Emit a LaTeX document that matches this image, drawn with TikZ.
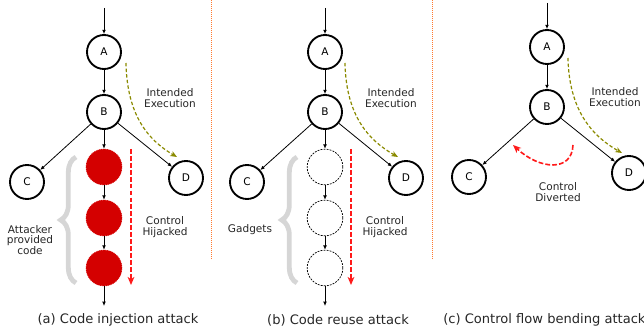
\documentclass[tikz,border=0pt]{standalone}
\usepackage{fontspec}
\setmainfont{DejaVu Sans}
\usetikzlibrary{arrows.meta,decorations.pathreplacing}

\definecolor{blockred}{HTML}{D40000}
\definecolor{hijackred}{HTML}{FF1A1A}
\definecolor{intended}{HTML}{8A8A00}
\definecolor{sepline}{HTML}{FF7A30}
\definecolor{bracegray}{HTML}{D6D6D6}

\tikzset{
  bb/.style={circle, draw=black, line width=1.4pt, minimum size=25.5pt, inner sep=0pt,
             font=\fontsize{7.9}{8}\selectfont},
  injected/.style={circle, fill=blockred, draw=blockred, line width=0.6pt,
             dash pattern=on 0.8pt off 0.6pt, minimum size=26.8pt, inner sep=0pt},
  gadget/.style={circle, draw=black, line width=0.55pt, dash pattern=on 1.4pt off 0.9pt,
             minimum size=26.8pt, inner sep=0pt},
  flow/.style={line width=0.6pt, -{Latex[length=3.2pt,width=2.8pt]}},
  hijack/.style={hijackred, line width=1.2pt, dash pattern=on 3.6pt off 1.6pt,
             -{Stealth[length=6pt,width=5pt,inset=1.6pt]}},
  planned/.style={intended, line width=0.9pt, dash pattern=on 2.6pt off 1.6pt,
             -{Stealth[length=5pt,width=4pt,inset=1.4pt]}},
  lbl/.style={align=center, inner sep=0pt, font=\fontsize{7.9}{8.1}\selectfont, text=black!85},
  caption/.style={inner sep=0pt, font=\fontsize{9.8}{11}\selectfont, text=black!85},
  gbrace/.style={bracegray, line width=3.6pt, decorate,
             decoration={brace, amplitude=11.5pt}},
  divider/.style={sepline, line width=0.75pt, dash pattern=on 0.75pt off 0.75pt},
}

\begin{document}
\begin{tikzpicture}[x=0.75pt, y=-0.75pt]
\useasboundingbox (0,0) rectangle (644,334);
\clip (0,0) rectangle (644,334);

% separators between the three panels
\coordinate (s1a) at (211,0);   \coordinate (s1b) at (211,260);
\coordinate (s2a) at (432,0);   \coordinate (s2b) at (432,260);
\draw[divider] (s1a) -- (s1b);
\draw[divider] (s2a) -- (s2b);

% ---------------- (a) code injection ----------------
\coordinate (ain) at (104,8);
\node[bb] (aA) at (104,52) {A};
\node[bb] (aB) at (104,112) {B};
\node[bb] (aC) at (27,182) {C};
\node[bb] (aD) at (186,178) {D};
\node[injected] (a1) at (104,167) {};
\node[injected] (a2) at (104,218) {};
\node[injected] (a3) at (104,268) {};
\coordinate (aout) at (104,306);
\draw[flow] (ain) -- (aA);
\draw[flow] (aA) -- (aB);
\draw[flow] (aB) -- (aC);
\draw[flow] (aB) -- (aD);
\draw[flow] (aB) -- (a1);
\draw[flow] (a1) -- (a2);
\draw[flow] (a2) -- (a3);
\draw[flow] (a3) -- (aout);

\coordinate (aie1) at (126,63);  \coordinate (aie2) at (177,157);
\draw[planned] (aie1) .. controls (127,115) and (148,140) .. (aie2);
\node[lbl] (aielbl) at (170,98) {Intended\\Execution};

\coordinate (ah1) at (131,149);  \coordinate (ah2) at (131,285);
\draw[hijack] (ah1) -- (ah2);
\node[lbl] (ahlbl) at (165,227) {Control\\Hijacked};

\coordinate (ab1) at (76,283);  \coordinate (ab2) at (76,157);
\draw[gbrace] (ab1) -- (ab2);
\node[lbl] (ablbl) at (30,240) {Attacker\\provided\\code};

\node[caption] (acap) at (118,320) {(a) Code injection attack};

% ---------------- (b) code reuse ----------------
\coordinate (bin) at (325,8);
\node[bb] (bA) at (325,52) {A};
\node[bb] (bB) at (325,112) {B};
\node[bb] (bC) at (247,182) {C};
\node[bb] (bD) at (406,178) {D};
\node[gadget] (b1) at (325,167) {};
\node[gadget] (b2) at (325,218) {};
\node[gadget] (b3) at (325,268) {};
\coordinate (bout) at (325,306);
\draw[flow] (bin) -- (bA);
\draw[flow] (bA) -- (bB);
\draw[flow] (bB) -- (bC);
\draw[flow] (bB) -- (bD);
\draw[flow] (bB) -- (b1);
\draw[flow] (b1) -- (b2);
\draw[flow] (b2) -- (b3);
\draw[flow] (b3) -- (bout);

\coordinate (bie1) at (345,63);  \coordinate (bie2) at (398,157);
\draw[planned] (bie1) .. controls (346,115) and (368,140) .. (bie2);
\node[lbl] (bielbl) at (391,98) {Intended\\Execution};

\coordinate (bh1) at (351,149);  \coordinate (bh2) at (351,285);
\draw[hijack] (bh1) -- (bh2);
\node[lbl] (bhlbl) at (385,227) {Control\\Hijacked};

\coordinate (bb1) at (297,283);  \coordinate (bb2) at (297,157);
\draw[gbrace] (bb1) -- (bb2);
\node[lbl] (bblbl) at (250,230) {Gadgets};

\node[caption] (bcap) at (338,320) {(b) Code reuse attack};

% ---------------- (c) control flow bending ----------------
\coordinate (cin) at (547,3);
\node[bb] (cA) at (547,47) {A};
\node[bb] (cB) at (547,107) {B};
\node[bb] (cC) at (469,177) {C};
\node[bb] (cD) at (629,173) {D};
\draw[flow] (cin) -- (cA);
\draw[flow] (cA) -- (cB);
\draw[flow] (cB) -- (cC);
\draw[flow] (cB) -- (cD);

\coordinate (cie1) at (568,58);  \coordinate (cie2) at (622,153);
\draw[planned] (cie1) .. controls (569,110) and (592,136) .. (cie2);
\node[lbl] (cielbl) at (615,97) {Intended\\Execution};

\coordinate (cd1) at (573,145);  \coordinate (cd2) at (513,145);
\draw[hijack] (cd1) .. controls (572,172) and (540,170) .. (cd2);
\node[lbl] (cdlbl) at (558,192) {Control\\Diverted};

\node[caption, anchor=west] (ccap) at (443,320) {(c) Control flow bending attack};
\end{tikzpicture}
\end{document}
